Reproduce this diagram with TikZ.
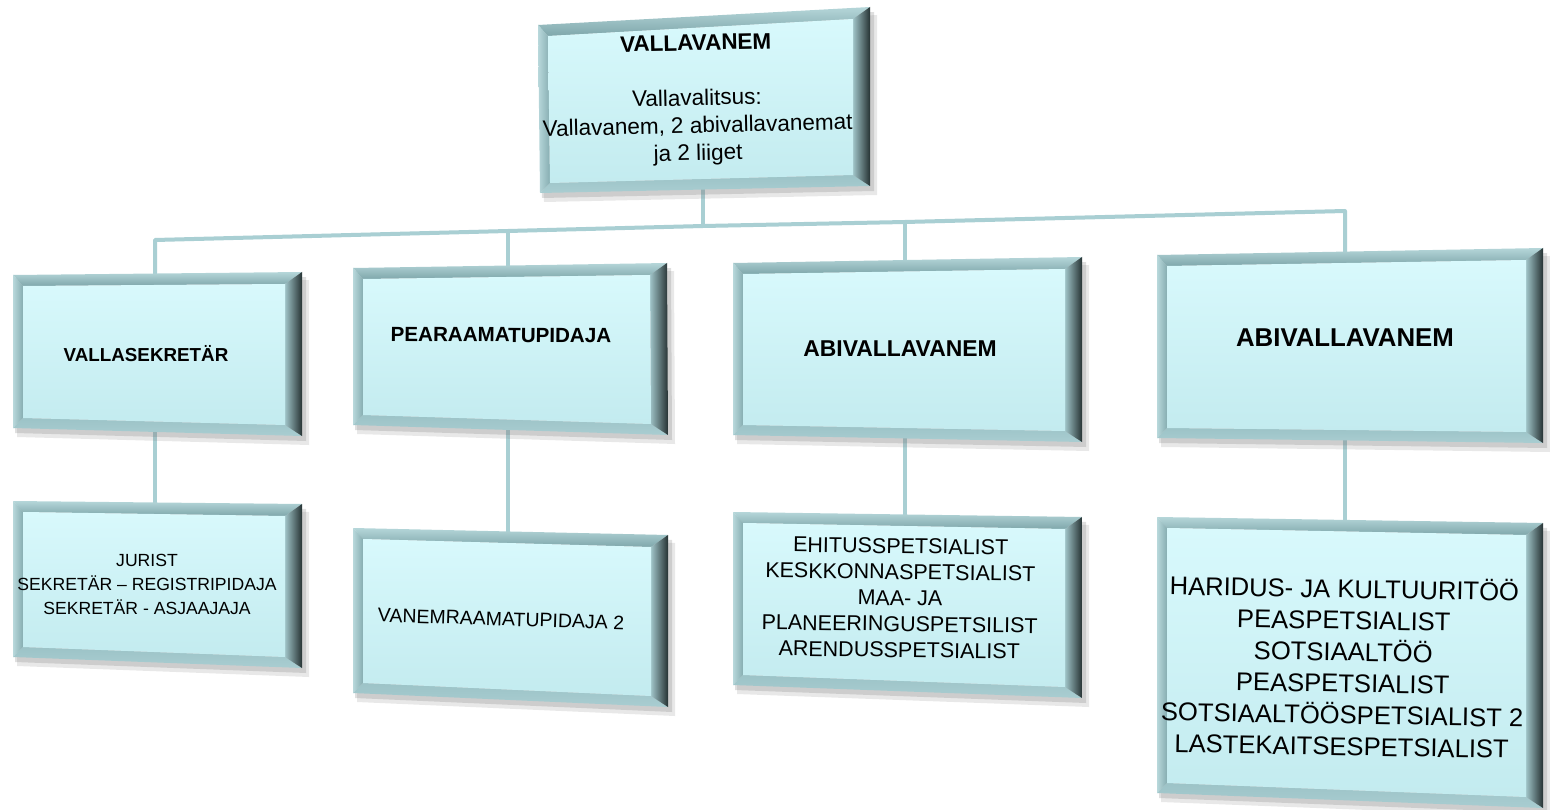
\documentclass[tikz,border=0pt]{standalone}
\usepackage{fontspec}
\setmainfont{Liberation Sans}
\usetikzlibrary{calc}
\definecolor{conn}{HTML}{A9CFD3}
\definecolor{faceT}{HTML}{D8F9FC}
\definecolor{faceB}{HTML}{C3EBEF}
\definecolor{bevTopA}{HTML}{B5D6D9}
\definecolor{bevTopM}{HTML}{F4FDFE}
\definecolor{bevTopB}{HTML}{7FA7AB}
\definecolor{bevLeftA}{HTML}{B8D8DB}
\definecolor{bevLeftM}{HTML}{E0F3F5}
\definecolor{bevLeftB}{HTML}{86ADB1}
\definecolor{bevBotA}{HTML}{9CC3C7}
\definecolor{bevBotM}{HTML}{F2FCFD}
\definecolor{bevBotB}{HTML}{A9CDD1}
\definecolor{bevRightA}{HTML}{9FC3C7}
\definecolor{bevRightM}{HTML}{5D7C80}
\definecolor{bevRightB}{HTML}{263233}
\definecolor{shadowc}{HTML}{808080}
\tikzset{
  connector/.style={draw=conn, line width=4pt, line join=round},
  boxtext/.style={align=center, text=black, inner sep=0pt},
}
% #1 name prefix, #2 TL, #3 TR, #4 BR, #5 BL (image pixel coordinates)
\newcommand\bevelbox[5]{%
  \coordinate (#1A) at #2; \coordinate (#1B) at #3;
  \coordinate (#1C) at #4; \coordinate (#1D) at #5;
  \coordinate (#1a) at ($(#1A)+(10,11)$);
  \coordinate (#1b) at ($(#1B)+(-17,12)$);
  \coordinate (#1c) at ($(#1C)+(-17,-11)$);
  \coordinate (#1d) at ($(#1D)+(10,-10)$);
  \fill[shadowc, opacity=.18] ($(#1A)+(4,8)$) -- ($(#1B)+(7,8)$) -- ($(#1C)+(7,9)$) -- ($(#1D)+(4,9)$) -- cycle;
  \fill[shadowc, opacity=.25] ($(#1A)+(2,5)$) -- ($(#1B)+(4,5)$) -- ($(#1C)+(4,5)$) -- ($(#1D)+(2,5)$) -- cycle;
  \shade[top color=bevTopA, middle color=bevTopM, bottom color=bevTopB] (#1A) -- (#1B) -- (#1b) -- (#1a) -- cycle;
  \shade[left color=bevLeftA, middle color=bevLeftM, right color=bevLeftB] (#1A) -- (#1a) -- (#1d) -- (#1D) -- cycle;
  \shade[top color=bevBotA, middle color=bevBotM, bottom color=bevBotB] (#1d) -- (#1c) -- (#1C) -- (#1D) -- cycle;
  \shade[left color=bevRightA, middle color=bevRightM, right color=bevRightB] (#1b) -- (#1B) -- (#1C) -- (#1c) -- cycle;
  \shade[top color=faceT, bottom color=faceB] (#1a) -- (#1b) -- (#1c) -- (#1d) -- cycle;
}
\begin{document}
\begin{tikzpicture}[x=1pt, y=-1pt]
\useasboundingbox (0,0) rectangle (1550,810);
\fill[white] (0,0) rectangle (1550,810);

% ---------- connector anchor coordinates ----------
\coordinate (topout) at (703,189);
\coordinate (bus0) at (155,240);
\coordinate (bus1) at (508,231);
\coordinate (bus2) at (703,226);
\coordinate (bus3) at (905,222);
\coordinate (bus4) at (1345,211);
\coordinate (s1in) at (155,276);
\coordinate (s2in) at (508,266);
\coordinate (s3in) at (905,262);
\coordinate (s4in) at (1345,252);
\coordinate (s1out) at (155,430);
\coordinate (s2out) at (508,430);
\coordinate (s3out) at (905,437);
\coordinate (s4out) at (1345,440);
\coordinate (u1in) at (155,503);
\coordinate (u2in) at (508,532);
\coordinate (u3in) at (905,515);
\coordinate (u4in) at (1345,521);

% ---------- connectors ----------
\draw[connector] (topout) -- (bus2);
\draw[connector, line cap=round] (s1in) -- (bus0) -- (bus1) -- (bus2) -- (bus3) -- (bus4) -- (s4in);
\draw[connector] (bus1) -- (s2in);
\draw[connector] (bus3) -- (s3in);
\draw[connector] (s1out) -- (u1in);
\draw[connector] (s2out) -- (u2in);
\draw[connector] (s3out) -- (u3in);
\draw[connector] (s4out) -- (u4in);

% ---------- boxes ----------
\bevelbox{top}{(538,25)}{(870,7)}{(870,186)}{(540,193)}
\bevelbox{sa}{(13,275)}{(302,272)}{(302,436)}{(13,428)}
\bevelbox{sb}{(353,268)}{(667,263)}{(668,435)}{(353,425)}
\bevelbox{sc}{(733,263)}{(1082,257)}{(1082,442)}{(733,435)}
\bevelbox{sd}{(1157,255)}{(1543,248)}{(1543,443)}{(1157,438)}
\bevelbox{ua}{(13,501)}{(302,504)}{(302,668)}{(13,657)}
\bevelbox{ub}{(353,528)}{(668,535)}{(668,707)}{(353,693)}
\bevelbox{uc}{(733,512)}{(1082,517)}{(1082,698)}{(733,685)}
\bevelbox{ud}{(1157,517)}{(1543,523)}{(1543,808)}{(1157,793)}

% ---------- texts ----------
\node[boxtext, rotate=1.3, font=\fontsize{22.5}{27.5}\selectfont] (vallavanem) at (697,100)
  {\textbf{VALLAVANEM}\\[27.5pt]Vallavalitsus:\\Vallavanem, 2 abivallavanemat\\ja 2 liiget};
\node[boxtext, font=\bfseries\fontsize{18.8}{22}\selectfont] (sekretar) at (146,354) {VALLASEKRETÄR};
\node[boxtext, rotate=-0.5, font=\bfseries\fontsize{20.6}{24}\selectfont] (pearaamat) at (501,335) {PEARAAMATUPIDAJA};
\node[boxtext, font=\bfseries\fontsize{22.9}{26}\selectfont] (abi1) at (900,349) {ABIVALLAVANEM};
\node[boxtext, font=\bfseries\fontsize{25.8}{29}\selectfont] (abi2) at (1345,338) {ABIVALLAVANEM};

\node[boxtext, font=\fontsize{17.6}{24}\selectfont] (jurist) at (147,584)
  {JURIST\\SEKRETÄR – REGISTRIPIDAJA\\SEKRETÄR - ASJAAJAJA};
\node[boxtext, rotate=-1.8, font=\fontsize{19.5}{23}\selectfont] (vanem) at (501,619) {VANEMRAAMATUPIDAJA 2};
\node[boxtext, rotate=-0.8, font=\fontsize{21.5}{26}\selectfont] (ehitus) at (900,598)
  {EHITUSSPETSIALIST\\KESKKONNASPETSIALIST\\MAA- JA\\PLANEERINGUSPETSILIST\\ARENDUSSPETSIALIST};
\node[boxtext, rotate=-1, font=\fontsize{25.6}{31.5}\selectfont] (haridus) at (1343,666)
  {HARIDUS- JA KULTUURITÖÖ\\PEASPETSIALIST\\SOTSIAALTÖÖ\\PEASPETSIALIST\\SOTSIAALTÖÖSPETSIALIST 2\\LASTEKAITSESPETSIALIST};
\end{tikzpicture}
\end{document}
